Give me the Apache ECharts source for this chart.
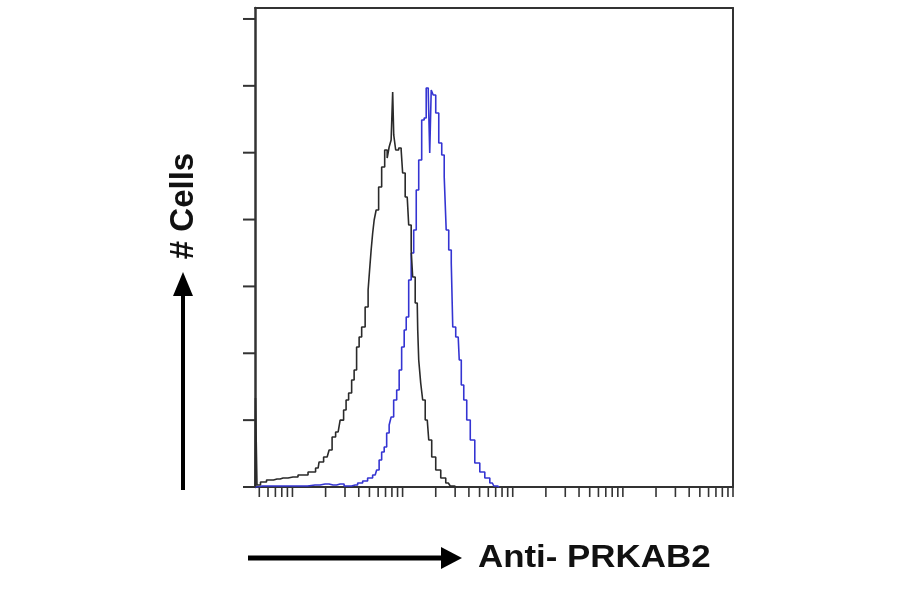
<!DOCTYPE html>
<html><head><meta charset="utf-8">
<script src="https://cdn.jsdelivr.net/npm/echarts@6/dist/echarts.min.js"></script>
<style>html,body{margin:0;padding:0;background:#fff}#c{width:900px;height:594px}</style>
</head><body><div id="c"></div>
<script>
// x values are log10 of fluorescence intensity; y values are cell counts (axis units)
const blackX = [-0.34,-0.331,-0.313,-0.267,-0.204,-0.14,-0.085,0.005,0.096,0.187,0.233,0.251,0.315,0.351,0.369,0.415,0.451,0.478,0.496,0.524,0.551,0.569,0.596,0.615,0.642,0.678,0.696,0.705,0.724,0.733,0.751,0.769,0.796,0.824,0.851,0.869,0.887,0.905,0.915,0.924,0.951,0.978,0.996,1.005,1.042,1.069,1.087,1.096,1.133,1.142,1.151,1.178,1.187,1.224,1.251,1.278,1.324,1.369,1.415,1.451,1.487];
const blackY = [0,1.33,0.03,0.075,0.105,0.12,0.135,0.15,0.18,0.224,0.284,0.374,0.449,0.553,0.748,0.823,1.0,1.152,1.301,1.406,1.6,1.75,2.094,2.243,2.393,2.692,2.946,3.246,3.545,3.799,3.993,4.143,4.487,4.786,5.04,4.92,5.085,5.19,5.908,5.265,5.04,5.07,5.04,4.696,4.337,3.919,3.545,3.141,2.752,2.348,1.9,1.555,1.301,1.002,0.703,0.449,0.254,0.135,0.06,0.015,0];
const blueX = [-0.34,-0.276,-0.113,0.069,0.205,0.296,0.369,0.433,0.505,0.569,0.615,0.66,0.705,0.751,0.778,0.796,0.824,0.842,0.869,0.887,0.905,0.933,0.96,0.978,1.005,1.024,1.042,1.069,1.087,1.115,1.133,1.16,1.187,1.205,1.224,1.242,1.251,1.269,1.287,1.315,1.342,1.369,1.387,1.405,1.433,1.451,1.46,1.505,1.524,1.542,1.569,1.596,1.633,1.678,1.724,1.769,1.815,1.842,1.878];
const blueY = [0,0.015,0.015,0.015,0.03,0.045,0.03,0.045,0.015,0.03,0.06,0.09,0.135,0.18,0.254,0.404,0.523,0.598,0.808,0.927,1.047,1.301,1.451,1.75,2.094,2.348,2.543,3.096,3.5,3.844,4.442,4.891,5.489,5.519,5.968,5.908,4.996,5.938,5.863,5.594,5.145,4.966,4.637,3.844,3.545,3.35,2.393,2.243,1.9,1.526,1.301,1.002,0.703,0.359,0.224,0.135,0.06,0.015,0];
const yTickValues = [0,1,2,3,4,5,6,7];
const decades = [-1,0,1,2,3,4];
const tickFactors = [1,2,3,4,5,6,7,8,9];
const xAxisTitle = 'Anti- PRKAB2';
const yAxisTitle = '# Cells';
const X_MIN = -0.34, X_MAX = 4, Y_MAX = 7.164;

const xTickValues = [];
decades.forEach(d => tickFactors.forEach(f => {
  const v = d + Math.log10(f);
  if (v >= X_MIN - 1e-9 && v <= X_MAX + 1e-9) xTickValues.push(v);
}));
const zip = (a, b) => a.map((v, i) => [v, b[i]]);

const axisColor = '#333';
const chart = echarts.init(document.getElementById('c'), null, {renderer: 'canvas'});
chart.setOption({
  animation: false,
  backgroundColor: '#fff',
  grid: {left: 255, right: 167, top: 8, bottom: 107},
  xAxis: [
    {type: 'value', min: X_MIN, max: X_MAX, axisLine: {show: true, onZero: false, lineStyle: {color: axisColor, width: 2}},
     axisTick: {show: false}, axisLabel: {show: false}, splitLine: {show: false}},
    {type: 'value', position: 'top', min: X_MIN, max: X_MAX, axisLine: {show: true, onZero: false, lineStyle: {color: axisColor, width: 2}},
     axisTick: {show: false}, axisLabel: {show: false}, splitLine: {show: false}}
  ],
  yAxis: [
    {type: 'value', min: 0, max: Y_MAX, axisLine: {show: true, onZero: false, lineStyle: {color: axisColor, width: 2.5}},
     axisTick: {show: false}, axisLabel: {show: false}, splitLine: {show: false}},
    {type: 'value', position: 'right', min: 0, max: Y_MAX, axisLine: {show: true, onZero: false, lineStyle: {color: axisColor, width: 2}},
     axisTick: {show: false}, axisLabel: {show: false}, splitLine: {show: false}}
  ],
  series: [
    {type: 'line', name: 'PRKAB2', data: zip(blueX, blueY), step: 'middle', showSymbol: false, symbol: 'none',
     lineStyle: {color: '#3434d2', width: 1.6}, z: 3},
    {type: 'line', name: 'Isotype', data: zip(blackX, blackY), step: 'middle', showSymbol: false, symbol: 'none',
     lineStyle: {color: '#2a2a2a', width: 1.6}, z: 4},
    {type: 'custom', name: 'xticks', silent: true, clip: false, z: 5,
     data: xTickValues.map(v => [v, 0]), encode: {x: 0, y: 1},
     renderItem: (params, api) => {
       const p = api.coord([api.value(0), 0]);
       return {type: 'line', shape: {x1: p[0], y1: p[1], x2: p[0], y2: p[1] + 10},
               style: {stroke: axisColor, lineWidth: 1.6}};
     }},
    {type: 'custom', name: 'yticks', silent: true, clip: false, z: 5,
     data: yTickValues.map(v => [X_MIN, v]), encode: {x: 0, y: 1},
     renderItem: (params, api) => {
       const p = api.coord([api.value(0), api.value(1)]);
       return {type: 'line', shape: {x1: p[0] - 12, y1: p[1], x2: p[0], y2: p[1]},
               style: {stroke: axisColor, lineWidth: 2}};
     }}
  ],
  graphic: [
    {type: 'line', shape: {x1: 183, y1: 490, x2: 183, y2: 292}, style: {stroke: '#000', lineWidth: 4}},
    {type: 'polygon', shape: {points: [[173, 296], [193, 296], [183, 272]]}, style: {fill: '#000'}},
    {type: 'line', shape: {x1: 248, y1: 558, x2: 445, y2: 558}, style: {stroke: '#000', lineWidth: 5}},
    {type: 'polygon', shape: {points: [[441, 547], [441, 569], [462, 558]]}, style: {fill: '#000'}},
    {type: 'text', x: 184, y: 206, rotation: Math.PI / 2,
     style: {text: yAxisTitle, font: 'bold 33px "Liberation Sans", Arial, sans-serif', fill: '#111', align: 'center', verticalAlign: 'middle'}},
    {type: 'text', x: 478, y: 558, scaleX: 1.09,
     style: {text: xAxisTitle, font: 'bold 32px "Liberation Sans", Arial, sans-serif', fill: '#111', align: 'left', verticalAlign: 'middle'}}
  ]
});
</script></body></html>
